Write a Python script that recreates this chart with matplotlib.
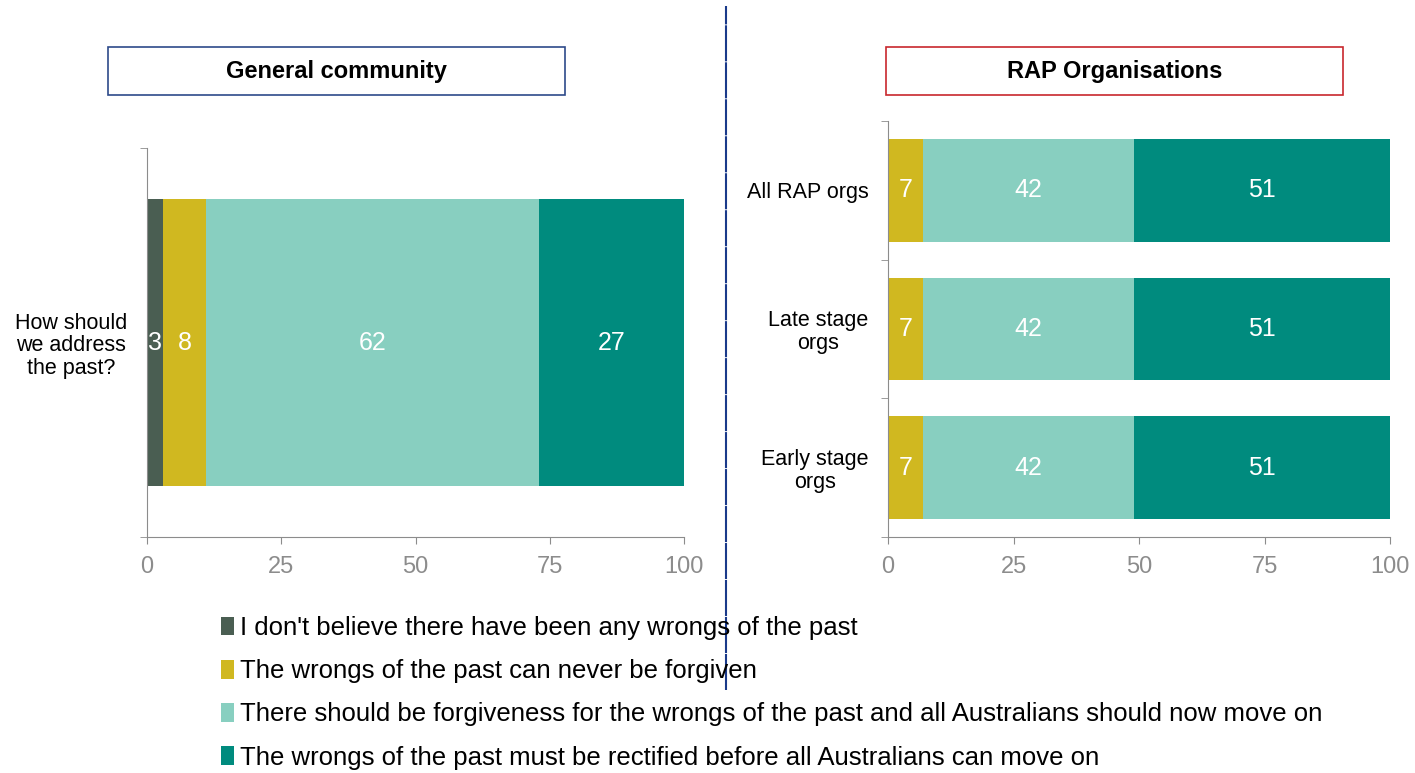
import matplotlib
matplotlib.use("Agg")
import matplotlib.pyplot as plt
from matplotlib.patches import Patch, Rectangle
from matplotlib.lines import Line2D

plt.rcParams["font.family"] = ["Liberation Sans", "DejaVu Sans"]

# ── Data ──────────────────────────────────────────────────────────────────────
series_names = [
    "I don't believe there have been any wrongs of the past",
    "The wrongs of the past can never be forgiven",
    "There should be forgiveness for the wrongs of the past and all Australians should now move on",
    "The wrongs of the past must be rectified before all Australians can move on",
]
colors = ["#4a5e52", "#d0b820", "#88cfc0", "#008b7e"]

general_cats = ["How should\nwe address\nthe past?"]
general_vals = [[3], [8], [62], [27]]

rap_cats = ["All RAP orgs", "Late stage\norgs", "Early stage\norgs"]
rap_vals = [[0, 0, 0], [7, 7, 7], [42, 42, 42], [51, 51, 51]]

xticks = [0, 25, 50, 75, 100]
grey = "#8c8c8c"


def draw_panel(ax, cats, vals):
    n = len(cats)
    ypos = list(range(n))
    left = [0] * n
    for s, series in enumerate(vals):
        bars = ax.barh(ypos, series, left=left, height=0.74,
                       color=colors[s], edgecolor="none")
        for b, v in zip(bars, series):
            if v > 0:
                ax.text(b.get_x() + b.get_width() / 2, b.get_y() + b.get_height() / 2,
                        str(v), ha="center", va="center", color="white", fontsize=18)
        left = [l + v for l, v in zip(left, series)]

    ax.set_xlim(0, 100)
    ax.set_ylim(n - 0.5, -0.5)
    ax.set_xticks(xticks)
    ax.set_yticks(ypos)
    ax.set_yticklabels(cats, multialignment="center", fontsize=15.5, linespacing=1.1)
    ax.set_yticks([i - 0.5 for i in range(n + 1)], minor=True)
    ax.tick_params(axis="y", which="major", length=0, pad=14)
    ax.tick_params(axis="y", which="minor", length=5, color=grey, direction="out")
    ax.tick_params(axis="x", length=5, color=grey, labelcolor=grey,
                   labelsize=17, pad=9)
    for side in ["top", "right"]:
        ax.spines[side].set_visible(False)
    for side in ["left", "bottom"]:
        ax.spines[side].set_color(grey)


fig = plt.figure(figsize=(14.15, 7.73), dpi=100)

ax1 = fig.add_axes([0.1039, 0.3053, 0.3795, 0.5032])
draw_panel(ax1, general_cats, general_vals)

ax2 = fig.add_axes([0.6276, 0.3053, 0.3548, 0.5382])
draw_panel(ax2, rap_cats, rap_vals)

# panel title boxes
for x0, label, edge in [(0.0763, "General community", "#2e4a8a"),
                        (0.6261, "RAP Organisations", "#c8282d")]:
    fig.add_artist(Rectangle((x0, 0.8771), 0.323, 0.0621, transform=fig.transFigure,
                             facecolor="white", edgecolor=edge, linewidth=1.2))
    fig.text(x0 + 0.1615, 0.9081, label, ha="center", va="center",
             fontsize=17, fontweight="bold")

# vertical divider
fig.add_artist(Line2D([0.513, 0.513], [0.107, 0.992], transform=fig.transFigure,
                      color="#1a3a8a", linewidth=1.5, linestyle=(0, (17.3, 0.45))))

# legend
handles = [Patch(facecolor=c, edgecolor="none") for c in colors]
fig.legend(handles, series_names, loc="upper left", bbox_to_anchor=(0.149, 0.2165),
           frameon=False, fontsize=18.5, handlelength=0.5, handleheight=0.75,
           handletextpad=0.22, labelspacing=0.75, borderaxespad=0)

fig.savefig("out.png", dpi=100)
